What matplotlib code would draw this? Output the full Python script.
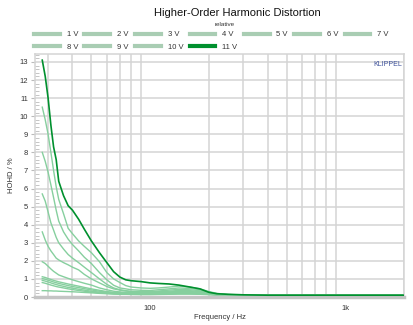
import matplotlib.pyplot as plt
from matplotlib.ticker import FixedLocator, MultipleLocator, NullFormatter
from matplotlib.lines import Line2D

plt.rcParams['font.family'] = ['Liberation Sans', 'DejaVu Sans']

# frequency points (Hz)
freq = [28, 29, 30, 31, 32, 33, 34, 36, 38, 40, 43, 46, 50, 55, 60, 65, 70, 75, 80, 90,
        100, 110, 125, 140, 160, 180, 200, 220, 250, 300, 400, 600, 1000, 2000]

# HOHD in % for each drive voltage
v1 = [0.35, 0.35, 0.34, 0.34, 0.33, 0.33, 0.32, 0.31, 0.30, 0.29, 0.27, 0.25, 0.23, 0.20, 0.18, 0.16, 0.15, 0.15, 0.14, 0.13,
      0.13, 0.14, 0.15, 0.16, 0.16, 0.15, 0.13, 0.11, 0.10, 0.10, 0.10, 0.10, 0.10, 0.10]
v2 = [0.80, 0.76, 0.71, 0.66, 0.62, 0.58, 0.55, 0.50, 0.45, 0.41, 0.36, 0.32, 0.27, 0.23, 0.20, 0.18, 0.17, 0.16, 0.15, 0.15,
      0.15, 0.16, 0.17, 0.18, 0.18, 0.17, 0.14, 0.11, 0.10, 0.10, 0.10, 0.10, 0.10, 0.10]
v3 = [0.92, 0.88, 0.83, 0.78, 0.73, 0.69, 0.65, 0.59, 0.53, 0.49, 0.43, 0.38, 0.32, 0.27, 0.23, 0.20, 0.19, 0.18, 0.17, 0.17,
      0.17, 0.18, 0.19, 0.20, 0.20, 0.19, 0.15, 0.12, 0.10, 0.10, 0.10, 0.10, 0.10, 0.10]
v4 = [1.02, 0.98, 0.93, 0.88, 0.83, 0.79, 0.75, 0.69, 0.63, 0.58, 0.52, 0.46, 0.39, 0.32, 0.27, 0.23, 0.21, 0.20, 0.19, 0.19,
      0.19, 0.20, 0.21, 0.23, 0.23, 0.21, 0.16, 0.12, 0.10, 0.10, 0.10, 0.10, 0.10, 0.10]
v5 = [1.12, 1.08, 1.02, 0.97, 0.92, 0.88, 0.84, 0.78, 0.72, 0.67, 0.60, 0.53, 0.45, 0.37, 0.30, 0.26, 0.24, 0.22, 0.21, 0.21,
      0.21, 0.22, 0.24, 0.26, 0.26, 0.24, 0.18, 0.13, 0.11, 0.10, 0.10, 0.10, 0.10, 0.10]
v6 = [1.95, 1.85, 1.70, 1.55, 1.42, 1.32, 1.22, 1.12, 1.03, 0.95, 0.85, 0.76, 0.66, 0.50, 0.40, 0.32, 0.28, 0.26, 0.25, 0.24,
      0.24, 0.26, 0.28, 0.31, 0.30, 0.27, 0.20, 0.14, 0.11, 0.10, 0.10, 0.10, 0.10, 0.10]
v7 = [3.60, 3.15, 2.80, 2.55, 2.35, 2.15, 2.05, 1.90, 1.78, 1.65, 1.50, 1.25, 1.00, 0.78, 0.58, 0.45, 0.38, 0.33, 0.30, 0.28,
      0.27, 0.29, 0.32, 0.36, 0.35, 0.30, 0.22, 0.15, 0.12, 0.11, 0.10, 0.10, 0.10, 0.10]
v8 = [5.70, 5.30, 4.70, 4.10, 3.70, 3.30, 3.00, 2.65, 2.35, 2.15, 1.90, 1.65, 1.35, 1.00, 0.70, 0.50, 0.40, 0.35, 0.31, 0.30,
      0.30, 0.33, 0.38, 0.42, 0.40, 0.35, 0.24, 0.16, 0.12, 0.11, 0.10, 0.10, 0.10, 0.10]
v9 = [8.00, 7.50, 6.90, 6.20, 5.50, 4.80, 4.20, 3.60, 3.20, 2.90, 2.55, 2.20, 1.85, 1.35, 0.95, 0.65, 0.50, 0.45, 0.40, 0.37,
      0.36, 0.40, 0.45, 0.50, 0.47, 0.40, 0.27, 0.18, 0.13, 0.11, 0.10, 0.10, 0.10, 0.10]
v10 = [10.5, 9.80, 9.00, 8.00, 7.00, 6.10, 5.40, 4.60, 3.80, 3.50, 3.10, 2.80, 2.45, 1.95, 1.35, 1.00, 0.80, 0.63, 0.55, 0.50,
       0.48, 0.50, 0.55, 0.60, 0.55, 0.45, 0.30, 0.20, 0.14, 0.11, 0.10, 0.10, 0.10, 0.10]
v11 = [13.1, 12.2, 11.0, 9.50, 8.30, 7.60, 6.40, 5.60, 5.05, 4.80, 4.30, 3.75, 3.10, 2.45, 1.90, 1.40, 1.10, 0.95, 0.90, 0.85,
       0.78, 0.75, 0.72, 0.66, 0.55, 0.45, 0.26, 0.18, 0.15, 0.12, 0.10, 0.10, 0.10, 0.10]

series = [v1, v2, v3, v4, v5, v6, v7, v8, v9, v10, v11]
labels = ['1 V', '2 V', '3 V', '4 V', '5 V', '6 V', '7 V', '8 V', '9 V', '10 V', '11 V']

light = '#86cf9e'
dark = '#00902e'
grid_c = '#d4d4d4'

fig = plt.figure(figsize=(4.14, 3.25), dpi=100)
ax = fig.add_axes([35 / 414, 1 - 297 / 325, 369 / 414, 243 / 325])

for i, ys in enumerate(series):
    if i == len(series) - 1:
        ax.plot(freq, ys, color=dark, lw=1.2, zorder=3)
    else:
        ax.plot(freq, ys, color=light, lw=1.0, zorder=2)

ax.set_xscale('log')
ax.set_xlim(25.7, 2000)
ax.set_ylim(0, 13.44)

xgrid = [30, 40, 50, 60, 70, 80, 90, 100, 200, 300, 400, 500, 600, 700, 800, 900, 1000, 2000]
ax.xaxis.set_major_locator(FixedLocator([100, 1000]))
ax.xaxis.set_minor_locator(FixedLocator(xgrid))
ax.xaxis.set_minor_formatter(NullFormatter())
ax.set_xticklabels(['100', '1k'])
ax.tick_params(axis='x', which='both', length=0, labelsize=5.5, pad=6, colors='#333333')

ax.yaxis.set_major_locator(MultipleLocator(1))
ax.yaxis.set_minor_locator(MultipleLocator(0.2))
ax.tick_params(axis='y', which='major', length=3, width=0.8, color='#bbbbbb',
               labelsize=5.5, pad=2, labelcolor='#333333')
ax.tick_params(axis='y', which='minor', direction='in', length=3, width=0.6, color='#bbbbbb')

ax.grid(True, which='minor', axis='x', color=grid_c, lw=1.1)
ax.grid(True, which='major', axis='y', color=grid_c, lw=1.1)
ax.set_axisbelow(True)

for s in ['top', 'right', 'left']:
    ax.spines[s].set_color(grid_c)
    ax.spines[s].set_linewidth(1.1)
ax.spines['bottom'].set_color('#c4c4c4')
ax.spines['bottom'].set_linewidth(2.5)

ax.set_xlabel('Frequency / Hz', fontsize=5.5, color='#333333', labelpad=1.5)
ax.set_ylabel('HOHD / %', fontsize=5.5, color='#333333', labelpad=3)

ax.text(0.995, 0.955, 'KLIPPEL', transform=ax.transAxes, ha='right', va='center',
        fontsize=5, color='#3b4f9a')

fig.text(237 / 414, 1 - 13 / 325, 'Higher-Order Harmonic Distortion', ha='center', va='center',
         fontsize=8, color='#111111')
fig.text(225 / 414, 1 - 25 / 325, 'relative', ha='center', va='center', fontsize=4.5, color='#333333')

# legend, row-major: 1..7 on first row, 8..11 on second
handles = []
for i, lab in enumerate(labels):
    if i == len(labels) - 1:
        handles.append(Line2D([], [], color=dark, lw=3))
    else:
        handles.append(Line2D([], [], color='#a9cdb3', lw=3))
order = [0, 7, 1, 8, 2, 9, 3, 10, 4, 5, 6]
fig.legend([handles[i] for i in order], [labels[i] for i in order], ncol=7,
           loc='upper left', bbox_to_anchor=(34 / 414, 1 - 31 / 325), frameon=False,
           fontsize=5.5, handlelength=3.4, handletextpad=0.9, columnspacing=0.8,
           labelspacing=0.65, borderpad=0, borderaxespad=0, labelcolor='#333333')

fig.savefig('out.png', dpi=100)
